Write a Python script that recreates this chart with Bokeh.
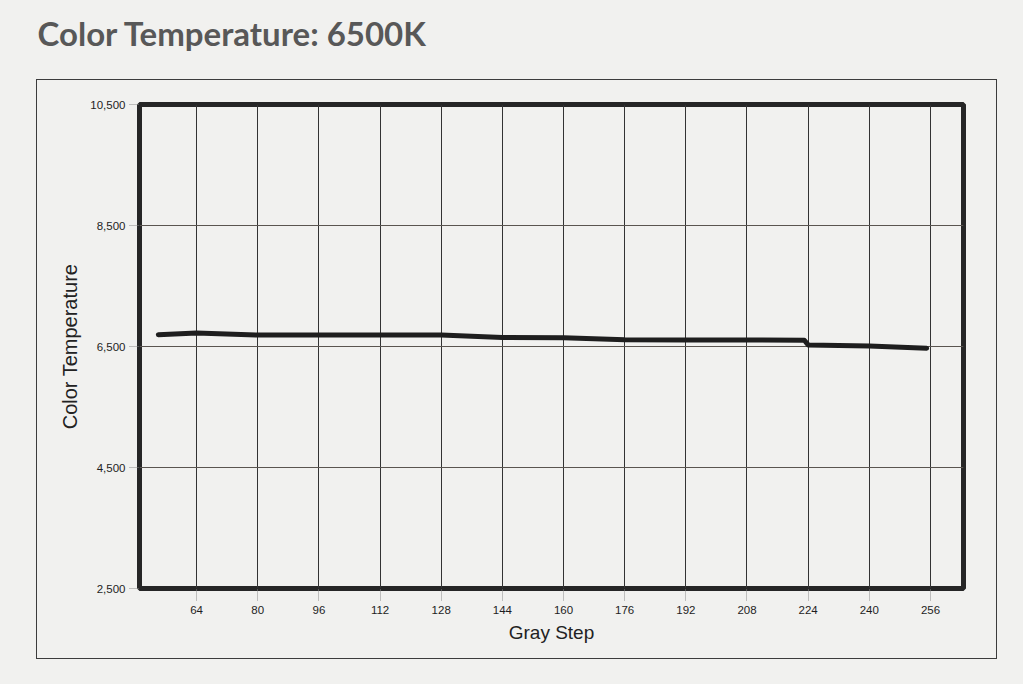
from bokeh.plotting import figure
from bokeh.layouts import column
from bokeh.models import Range1d, FixedTicker, NumeralTickFormatter, Label
from bokeh.embed import file_html
from bokeh.resources import INLINE

# ---- data ----
gray_step = [54, 64, 80, 96, 112, 128, 144, 160, 176, 192, 208, 223, 224, 240, 255]
color_temp = [6695, 6722, 6690, 6690, 6690, 6690, 6650, 6646, 6610, 6608, 6606, 6604, 6526, 6509, 6472]

x_ticks = [64, 80, 96, 112, 128, 144, 160, 176, 192, 208, 224, 240, 256]
y_ticks = [2500, 4500, 6500, 8500, 10500]

title_text = "Color Temperature: 6500K"
x_label = "Gray Step"
y_label = "Color Temperature"

PAPER = "#f1f1ef"

# ---- heading strip with the title ----
head = figure(width=1023, height=79, output_backend="svg", toolbar_location=None,
              x_range=Range1d(0, 1023), y_range=Range1d(0, 79), title=None,
              min_border=0, min_border_left=0, min_border_right=0,
              min_border_top=0, min_border_bottom=0,
              x_axis_type=None, y_axis_type=None)
head.frame_align = False
head.background_fill_color = PAPER
head.border_fill_color = PAPER
head.outline_line_color = None
head.grid.visible = False
head.add_layout(Label(x=37, y=47, text=title_text, text_font="Lato",
                      text_font_size="33px", text_font_style="bold",
                      text_color="#585858", text_baseline="alphabetic",
                      text_align="left"))

# ---- main chart inside a thin box ----
p = figure(width=961, height=580, output_backend="svg", toolbar_location=None,
           x_range=Range1d(49.07, 264.64), y_range=Range1d(2500, 10500),
           min_border_left=102, min_border_right=35, min_border_top=24, min_border_bottom=72,
           margin=(0, 0, 25, 36),
           styles={"border": "1.5px solid #3c3c3c"})
p.frame_align = False

p.background_fill_color = PAPER
p.border_fill_color = PAPER
p.outline_line_color = "#262626"
p.outline_line_width = 5

p.xgrid.ticker = FixedTicker(ticks=x_ticks)
p.ygrid.ticker = FixedTicker(ticks=y_ticks)
p.xgrid.grid_line_color = "#333333"
p.ygrid.grid_line_color = "#5a5550"
p.xgrid.grid_line_width = 1
p.ygrid.grid_line_width = 1

p.xaxis.ticker = FixedTicker(ticks=x_ticks)
p.yaxis.ticker = FixedTicker(ticks=y_ticks)
p.yaxis.formatter = NumeralTickFormatter(format="0,0")

for ax in (p.xaxis, p.yaxis):
    ax.axis_line_color = None
    ax.minor_tick_line_color = None
    ax.major_tick_in = 0
    ax.major_tick_line_color = "#8a8a8a"
    ax.major_tick_line_dash = "1 1"
    ax.major_label_text_font = "Liberation Sans"
    ax.major_label_text_font_size = "11.5px"
    ax.major_label_text_color = "#1e1e1e"
    ax.axis_label_text_font = "Liberation Sans"
    ax.axis_label_text_font_style = "normal"
    ax.axis_label_text_color = "#222222"

p.xaxis.major_tick_out = 12
p.xaxis.major_label_standoff = 5
p.xaxis.axis_label = x_label
p.xaxis.axis_label_text_font_size = "19px"
p.xaxis.axis_label_standoff = 5

p.yaxis.major_tick_out = 10
p.yaxis.major_label_standoff = 4
p.yaxis.axis_label = y_label
p.yaxis.axis_label_text_font_size = "20px"
p.yaxis.axis_label_standoff = 6

p.line(gray_step, color_temp, line_width=5, line_color="#1e1e1e",
       line_cap="round", line_join="round")

page = column(head, p, styles={"background-color": PAPER})

open("out.html", "w").write(file_html(page, INLINE))
